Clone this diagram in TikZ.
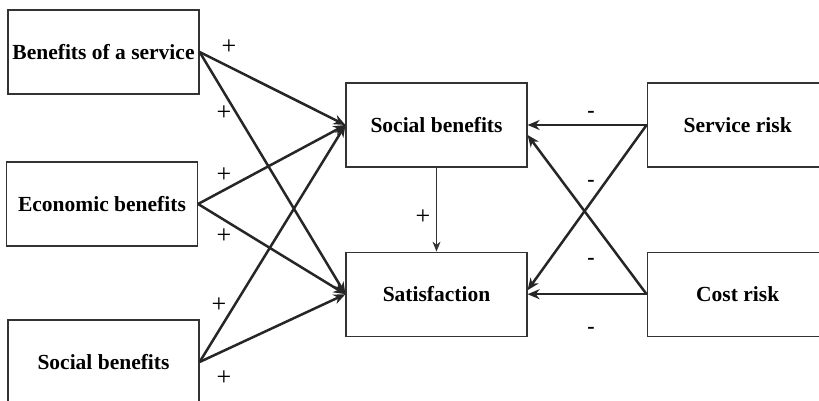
\documentclass[tikz,border=0pt]{standalone}
\usepackage{fontspec}
\setmainfont{Liberation Serif}
\usetikzlibrary{arrows.meta,positioning,calc}

\begin{document}
\begin{tikzpicture}[
    x=1pt, y=1pt,
    node distance=84pt,
    box/.style={rectangle, draw=black!80, line width=1.2pt, minimum width=191pt, minimum height=84pt, align=center, font=\fontsize{21.5}{26}\selectfont\bfseries},
    midbox/.style={box, minimum width=181pt},
    link/.style={draw=black!85, line width=2.5pt, -{Stealth[length=12pt,width=10pt]}},
    thinlink/.style={draw=black!80, line width=1.2pt, -{Stealth[length=10pt,width=8pt]}},
    sign/.style={font=\fontsize{26}{28}\selectfont, inner sep=0pt},
    minus/.style={font=\fontsize{22}{24}\selectfont\bfseries, inner sep=0pt}
]
    \useasboundingbox (0,0) rectangle (819,401);

    % left column
    \node[box] (service) at (103.5,349) {Benefits of a service};
    \node[box] (economic) at (102,197) {Economic benefits};
    \node[box] (socialin) at (103.5,39) {Social benefits};

    % middle and right columns
    \node[midbox] (social) at (436.5,276) {Social benefits};
    \node[midbox, below=84pt of social] (satis) {Satisfaction};
    \node[midbox, right=119pt of social] (servrisk) {Service risk};
    \node[midbox, below=84pt of servrisk] (costrisk) {Cost risk};

    \draw[link] (service.east) -- (social.west);
    \draw[link] (service.east) -- (satis.west);
    \draw[link] (economic.east) -- (social.west);
    \draw[link] (economic.east) -- (satis.west);
    \draw[link] (socialin.east) -- (social.west);
    \draw[link] (socialin.east) -- (satis.west);
    \draw[thinlink] (social) -- (satis);

    \draw[link] (servrisk.west) -- (social.east);
    \draw[link] (servrisk.west) -- ([yshift=4pt]satis.east);
    \draw[link] (costrisk.west) -- (satis.east);
    \draw[link] (costrisk.west) -- ([yshift=-10pt]social.east);

    % signs
    \node[sign] (p1) at (229,354) {+};
    \node[sign] (p2) at (224,288) {+};
    \node[sign] (p3) at (224,226) {+};
    \node[sign] (p4) at (224,165) {+};
    \node[sign] (p5) at (219,96) {+};
    \node[sign] (p6) at (224,23) {+};
    \node[sign] (p7) at (423,184) {+};
    \node[minus] (m1) at (591,287) {-};
    \node[minus] (m2) at (591,218) {-};
    \node[minus] (m3) at (591,140) {-};
    \node[minus] (m4) at (591,71) {-};
\end{tikzpicture}
\end{document}
